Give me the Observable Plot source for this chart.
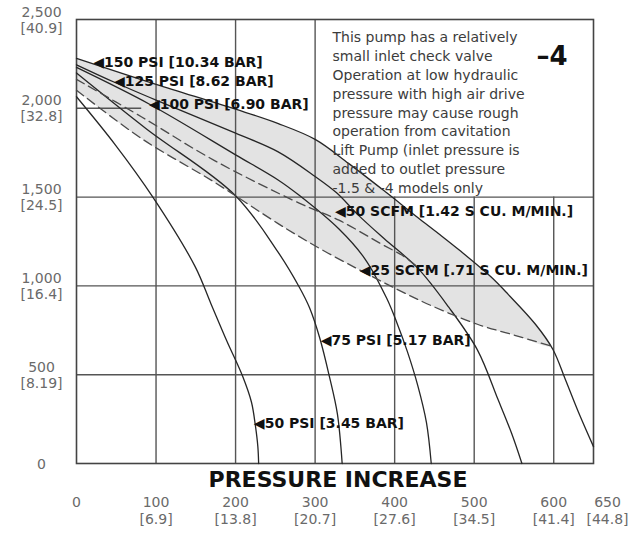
<!DOCTYPE html>
<html>
<head>
<meta charset="utf-8">
<script src="https://cdn.jsdelivr.net/npm/d3@7"></script>
<script src="https://cdn.jsdelivr.net/npm/@observablehq/plot@0.6"></script>
<style>
  html, body { margin: 0; padding: 0; background: #fff; }
  #chart svg { display: block; }
</style>
</head>
<body>
<div id="chart"></div>
<script>
// ---- Axis ticks (pressure increase in PSI [BAR], flow in in³/min [L/min]) ----
const xTicks = [0, 100, 200, 300, 400, 500, 600, 650];
const xTickText = ["0", "100", "200", "300", "400", "500", "600", "650"];
const xTickMetric = ["", "[6.9]", "[13.8]", "[20.7]", "[27.6]", "[34.5]", "[41.4]", "[44.8]"];
const yTicks = [0, 500, 1000, 1500, 2000, 2500];
const yTickText = ["0", "500", "1,000", "1,500", "2,000", "2,500"];
const yTickMetric = ["", "[8.19]", "[16.4]", "[24.5]", "[32.8]", "[40.9]"];

// ---- Air drive pressure curves (solid) ----
const psi150X = [0, 100, 200, 253, 300, 342, 390, 429, 455, 482, 521, 543, 577, 599, 614, 631, 650];
const psi150Y = [2281, 2135, 1995, 1915, 1825, 1690, 1524, 1385, 1295, 1199, 1051, 951, 784, 642, 480, 290, 95];
const psi125X = [0, 47, 100, 200, 253, 300, 327, 354, 387, 429, 468, 504, 530, 547, 560];
const psi125Y = [2245, 2148, 2046, 1860, 1756, 1616, 1524, 1400, 1265, 1100, 880, 640, 360, 170, 0];
const psi100X = [0, 93, 200, 253, 280, 330, 363, 390, 403, 416, 429, 440, 446];
const psi100Y = [2230, 2020, 1738, 1598, 1510, 1320, 1150, 930, 790, 630, 440, 230, 0];
const psi75X = [0, 88, 199, 253, 280, 293, 306, 318, 328, 334];
const psi75Y = [2199, 1884, 1512, 1193, 994, 877, 704, 489, 279, 0];
const psi50X = [0, 49, 96, 149, 169, 189, 209, 220, 225, 228, 229];
const psi50Y = [2065, 1793, 1500, 1110, 900, 690, 490, 345, 210, 95, 0];

// ---- Air consumption curves (dashed) ----
const scfm50X = [0, 82, 173, 280, 330, 382, 412, 429];
const scfm50Y = [2163, 1951, 1707, 1466, 1370, 1239, 1165, 1105];
const scfm25X = [0, 82, 173, 253, 306, 358, 403, 446, 504, 551, 596];
const scfm25Y = [2102, 1829, 1585, 1352, 1210, 1085, 981, 889, 784, 722, 662];

// ---- Curve labels (arrow tip positions) ----
const labelText = ["150 PSI [10.34 BAR]", "125 PSI [8.62 BAR]", "100 PSI [6.90 BAR]", "75 PSI [5.17 BAR]",
  "50 PSI [3.45 BAR]", "50 SCFM [1.42 S CU. M/MIN.]", "25 SCFM [.71 S CU. M/MIN.]"];
const labelX = [21, 47, 91, 307, 223, 325, 356];
const labelY = [2255, 2148, 2020, 691, 226, 1420, 1085];

// ---- Grid ----
const gridXFull = [100, 200, 300];
const gridXLow = [400, 500, 600];
const gridY = [500, 1000, 1500];

// ---- Note ----
const noteLines = [
  "This pump has a relatively",
  "small inlet check valve",
  "Operation at low hydraulic",
  "pressure with high air drive",
  "pressure may cause rough",
  "operation from cavitation",
  "Lift Pump (inlet pressure is",
  "added to outlet pressure",
  "-1.5 & -4 models only"
];
const modelTag = "\u20134";
const xTitle = "PRESSURE INCREASE";

const pts = (xs, ys) => xs.map((x, i) => ({x, y: ys[i]}));

// shaded band: 150 PSI curve down to its meeting with 25 SCFM, back along 25 SCFM
const bandTop = pts(psi150X, psi150Y).filter(d => d.x < scfm25X[scfm25X.length - 1]);
const bandBottom = pts(scfm25X, scfm25Y).reverse();
const band = bandTop.concat(bandBottom);

const solid = {stroke: "#262626", strokeWidth: 1.3, curve: "catmull-rom"};
const dashed = {stroke: "#4a4a4a", strokeWidth: 1.3, strokeDasharray: "9,5", curve: "catmull-rom"};
const gridStyle = {stroke: "#555", strokeWidth: 1.4};

const chart = Plot.plot({
  width: 644,
  height: 533,
  marginLeft: 76,
  marginRight: 51,
  marginTop: 19,
  marginBottom: 70,
  x: {domain: [0, 650], axis: null},
  y: {domain: [0, 2500], axis: null},
  style: {fontFamily: "DejaVu Sans", background: "#fff", color: "#222"},
  marks: [
    Plot.line(band, {x: "x", y: "y", fill: "#e3e3e3", stroke: "none", curve: "catmull-rom"}),
    Plot.ruleX(gridXFull, {y1: 0, y2: 2500, ...gridStyle}),
    Plot.ruleX(gridXLow, {y1: 0, y2: 1500, ...gridStyle}),
    Plot.ruleY(gridY, {x1: 0, x2: 650, ...gridStyle}),
    Plot.ruleY([2000], {x1: 0, x2: 82, ...gridStyle}),
    Plot.frame({stroke: "#444", strokeWidth: 1.6}),
    Plot.line(pts(psi150X, psi150Y), {x: "x", y: "y", ...solid}),
    Plot.line(pts(psi125X, psi125Y), {x: "x", y: "y", ...solid}),
    Plot.line(pts(psi100X, psi100Y), {x: "x", y: "y", ...solid}),
    Plot.line(pts(psi75X, psi75Y), {x: "x", y: "y", ...solid}),
    Plot.line(pts(psi50X, psi50Y), {x: "x", y: "y", ...solid}),
    Plot.line(pts(scfm50X, scfm50Y), {x: "x", y: "y", ...dashed}),
    Plot.line(pts(scfm25X, scfm25Y), {x: "x", y: "y", ...dashed}),
    Plot.text(labelText, {
      x: (d, i) => labelX[i], y: (d, i) => labelY[i],
      text: d => "\u25C0" + d,
      textAnchor: "start", lineAnchor: "middle",
      fontSize: 14, fontWeight: "bold", fill: "#111"
    }),
    // y tick labels
    Plot.text(yTicks, {
      y: d => d, frameAnchor: "left", dx: -35,
      text: (d, i) => yTickMetric[i] ? yTickText[i] + "\n" + yTickMetric[i] : yTickText[i],
      textAnchor: "middle", lineAnchor: "middle", lineHeight: 1.15,
      fontSize: 14, fill: "#6a6a6a"
    }),
    // x tick labels
    Plot.text(xTicks.slice(0, 7), {
      x: d => d, frameAnchor: "bottom", dy: 32,
      text: (d, i) => xTickMetric[i] ? xTickText[i] + "\n" + xTickMetric[i] : xTickText[i],
      textAnchor: "middle", lineAnchor: "top", lineHeight: 1.2,
      fontSize: 14, fill: "#6a6a6a"
    }),
    Plot.text(xTicks.slice(7), {
      x: d => d, frameAnchor: "bottom", dy: 32, dx: 14,
      text: (d, i) => xTickText[i + 7] + "\n" + xTickMetric[i + 7],
      textAnchor: "middle", lineAnchor: "top", lineHeight: 1.2,
      fontSize: 14, fill: "#6a6a6a"
    }),
    // x title
    Plot.text([xTitle], {
      frameAnchor: "bottom", dy: 16, dx: 3, lineAnchor: "middle",
      fontSize: 22, fontWeight: "bold", fill: "#111"
    }),
    // note
    Plot.text([noteLines.join("\n")], {
      frameAnchor: "top-right", dx: -261, dy: 9,
      textAnchor: "start", lineAnchor: "top", lineHeight: 1.35,
      fontSize: 14, fill: "#3c3c3c"
    }),
    Plot.text([modelTag], {
      frameAnchor: "top-right", dx: -26, dy: 37,
      textAnchor: "end", lineAnchor: "middle",
      fontSize: 26, fontWeight: "bold", fill: "#111"
    })
  ]
});
document.getElementById("chart").appendChild(chart);
</script>
</body>
</html>
